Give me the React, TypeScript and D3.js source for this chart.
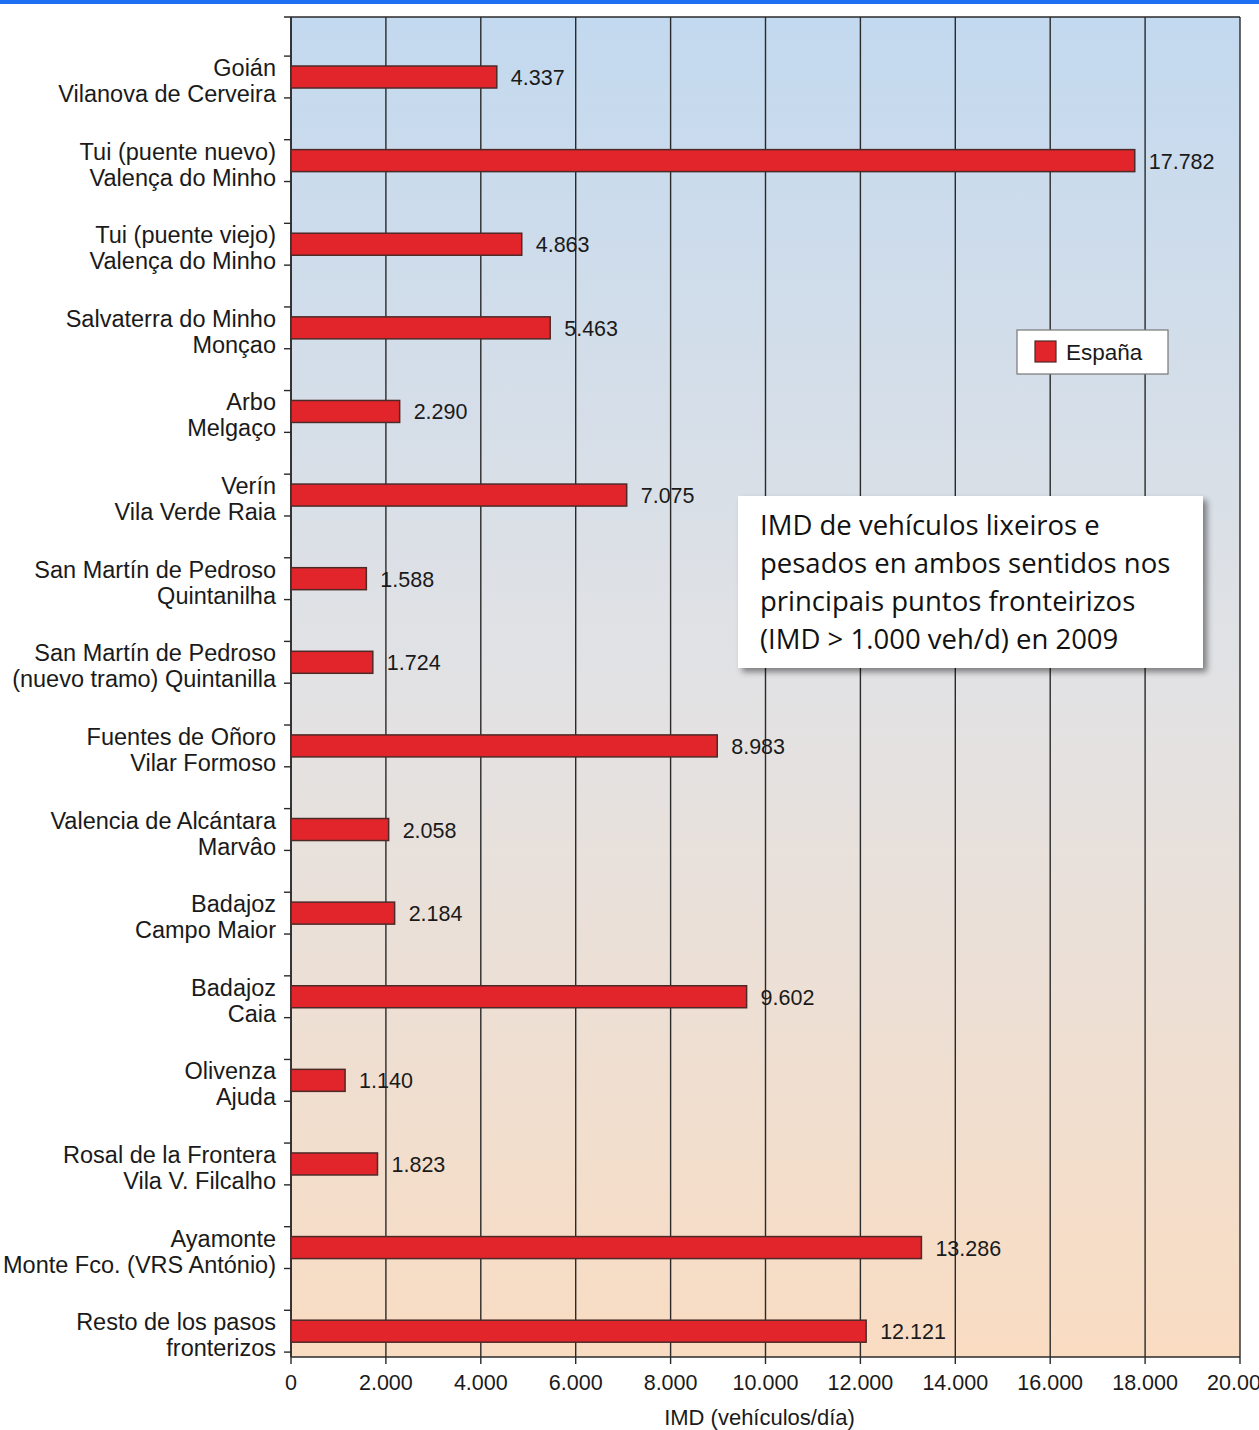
import React from 'react';
import * as d3 from 'd3';

const topLabels = [
  'Goián', 'Tui (puente nuevo)', 'Tui (puente viejo)', 'Salvaterra do Minho', 'Arbo', 'Verín',
  'San Martín de Pedroso', 'San Martín de Pedroso', 'Fuentes de Oñoro', 'Valencia de Alcántara',
  'Badajoz', 'Badajoz', 'Olivenza', 'Rosal de la Frontera', 'Ayamonte', 'Resto de los pasos',
];
const bottomLabels = [
  'Vilanova de Cerveira', 'Valença do Minho', 'Valença do Minho', 'Monçao', 'Melgaço', 'Vila Verde Raia',
  'Quintanilha', '(nuevo tramo) Quintanilla', 'Vilar Formoso', 'Marvâo',
  'Campo Maior', 'Caia', 'Ajuda', 'Vila V. Filcalho', 'Monte Fco. (VRS António)', 'fronterizos',
];
const espana = [4337, 17782, 4863, 5463, 2290, 7075, 1588, 1724, 8983, 2058, 2184, 9602, 1140, 1823, 13286, 12121];
const xTicks = [0, 2000, 4000, 6000, 8000, 10000, 12000, 14000, 16000, 18000, 20000];
const seriesName = 'España';
const noteLines = [
  'IMD de vehículos lixeiros e',
  'pesados en ambos sentidos nos',
  'principais puntos fronteirizos',
  '(IMD > 1.000 veh/d) en 2009',
];
const xTitle = 'IMD (vehículos/día)';

const W = 1259;
const H = 1430;
const left = 291;
const right = 1240;
const top = 17;
const bottom = 1357;
const font = "'Liberation Sans', Arial, sans-serif";

const fmt = d3.formatLocale({ decimal: ',', thousands: '.', grouping: [3], currency: ['', ''] }).format(',d');

export default function App() {
  const keys = topLabels.map((t, i) => `${i}`);
  const x = d3.scaleLinear().domain([0, 20000]).range([left, right]);
  const y = d3.scaleBand().domain(keys).range([35.2, 1373]);
  const step = y.step();
  const barH = 22;

  return (
    <svg width={W} height={H} style={{ position: 'absolute', left: 0, top: 0 }} fontFamily={font}>
      <defs>
        <linearGradient id="bg" x1="0" y1="0" x2="0" y2="1">
          <stop offset="0" stopColor="#c3d9ef" />
          <stop offset="0.5" stopColor="#e2e2e4" />
          <stop offset="1" stopColor="#f9dcc2" />
        </linearGradient>
        <filter id="shadow" x="-10%" y="-10%" width="125%" height="130%">
          <feDropShadow dx="4" dy="4" stdDeviation="3" floodColor="#000" floodOpacity="0.45" />
        </filter>
      </defs>
      <rect x={0} y={0} width={W} height={H} fill="#fff" />
      <rect x={0} y={0} width={W} height={4} fill="#1f6ff2" />
      <rect x={left} y={top} width={right - left} height={bottom - top} fill="url(#bg)" />

      {/* vertical grid */}
      {xTicks.map(t => (
        <line key={t} x1={x(t)} x2={x(t)} y1={top} y2={bottom + 7} stroke="#2a2a2a" strokeWidth={1.4} />
      ))}
      <line x1={left - 7} x2={right} y1={top} y2={top} stroke="#2a2a2a" strokeWidth={1.6} />
      <line x1={left} x2={right} y1={bottom} y2={bottom} stroke="#2a2a2a" strokeWidth={1.6} />
      <line x1={left} x2={left} y1={top} y2={bottom} stroke="#2a2a2a" strokeWidth={1.6} />

      {/* category labels and ticks */}
      {keys.map((k, i) => {
        const c = (y(k) ?? 0) + step / 2;
        return (
          <g key={k}>
            <line x1={left - 7} x2={left} y1={c - step / 4} y2={c - step / 4} stroke="#2a2a2a" strokeWidth={1.4} />
            <line x1={left - 7} x2={left} y1={c + step / 4} y2={c + step / 4} stroke="#2a2a2a" strokeWidth={1.4} />
            <text x={276} y={c - 1} textAnchor="end" fontSize={23.5} fill="#1a1a1a">{topLabels[i]}</text>
            <text x={276} y={c + 25} textAnchor="end" fontSize={23.5} fill="#1a1a1a">{bottomLabels[i]}</text>
          </g>
        );
      })}

      {/* bars */}
      {keys.map((k, i) => {
        const c = (y(k) ?? 0) + step / 2;
        return (
          <g key={k}>
            <rect x={x(0)} y={c - barH / 2} width={x(espana[i]) - x(0)} height={barH}
              fill="#e1252a" stroke="#4d2a28" strokeWidth={1.5} />
            <text x={x(espana[i]) + 14} y={c + 8} fontSize={21.5} fill="#1a1a1a">{fmt(espana[i])}</text>
          </g>
        );
      })}

      {/* x tick labels */}
      {xTicks.map(t => (
        <text key={t} x={x(t)} y={1390} textAnchor="middle" fontSize={21.5} fill="#1a1a1a">{fmt(t)}</text>
      ))}
      <text x={(left + right) / 2 - 6} y={1425} textAnchor="middle" fontSize={22} fill="#1a1a1a">{xTitle}</text>

      {/* legend */}
      <rect x={1017} y={330} width={151} height={44} fill="#fff" stroke="#777" strokeWidth={1.2} />
      <rect x={1035} y={341} width={21} height={21} fill="#e1252a" stroke="#4d2a28" strokeWidth={1.2} />
      <text x={1066} y={360} fontSize={22.5} fill="#1a1a1a">{seriesName}</text>

      {/* note box */}
      <rect x={738} y={496} width={465} height={172} fill="#fff" filter="url(#shadow)" />
      {noteLines.map((l, i) => (
        <text key={i} x={760} y={535 + i * 38} fontSize={27.5} fill="#111" fontFamily="'Open Sans', 'Noto Sans', sans-serif">{l}</text>
      ))}
    </svg>
  );
}
